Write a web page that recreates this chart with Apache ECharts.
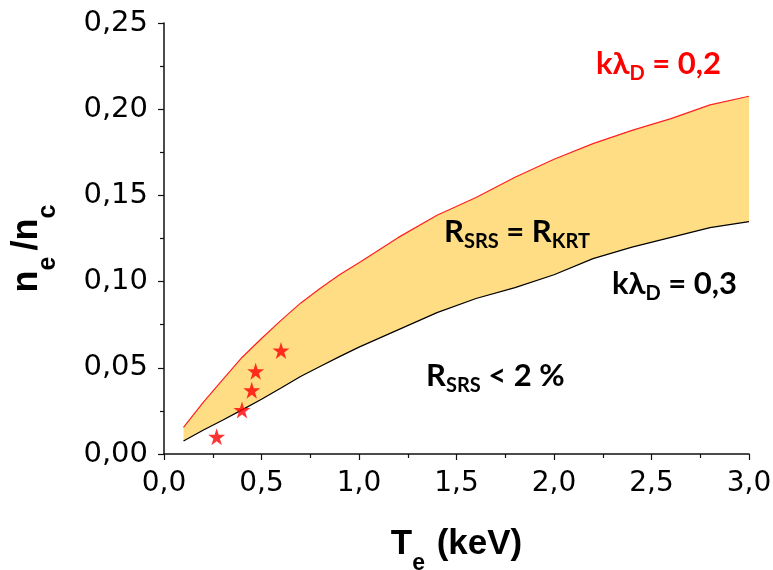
<!DOCTYPE html>
<html><head><meta charset="utf-8">
<script src="https://cdn.jsdelivr.net/npm/echarts@6/dist/echarts.min.js"></script>
<style>html,body{margin:0;padding:0;background:#fff}#c{width:773px;height:570px}</style>
</head><body><div id="c"></div>
<script>
// Electron temperature (keV)
const teValues = [0.1,0.2,0.3,0.4,0.5,0.6,0.7,0.8,0.9,1.0,1.2,1.4,1.6,1.8,2.0,2.2,2.4,2.6,2.8,3.0];
// upper boundary k*lambda_D = 0.2
const upperKLD02 = [0.0155,0.0298,0.043,0.056,0.067,0.0775,0.0875,0.096,0.104,0.111,0.1255,0.1385,0.1488,0.1605,0.171,0.180,0.1877,0.1945,0.2025,0.2075];
// lower boundary k*lambda_D = 0.3
const lowerKLD03 = [0.0075,0.0138,0.0196,0.0256,0.0318,0.0383,0.0450,0.0508,0.0565,0.0620,0.0720,0.0820,0.0902,0.0965,0.1040,0.1133,0.1200,0.1257,0.1313,0.1348];
// experimental points (stars)
const starTe = [0.27,0.40,0.45,0.47,0.60];
const starNe = [0.010,0.0255,0.037,0.048,0.060];
const xTickLabels = ['0,0','0,5','1,0','1,5','2,0','2,5','3,0'];
const yTickLabels = ['0,00','0,05','0,10','0,15','0,20','0,25'];

const upperData = teValues.map((t,i)=>[t, upperKLD02[i]]);
const lowerData = teValues.map((t,i)=>[t, lowerKLD03[i]]);
const starData = starTe.map((t,i)=>[t, starNe[i]]);

const STAR = 'path://M50,0 L61.2,34.5 L97.6,34.5 L68.2,55.9 L79.4,90.5 L50,69.1 L20.6,90.5 L31.8,55.9 L2.4,34.5 L38.8,34.5 Z';
const annFont = 'Lato, "Open Sans", sans-serif';
const annRich = (color) => ({
  m: {fontFamily: annFont, fontWeight: 'bold', fontSize: 31, lineHeight: 34, fill: color},
  s: {fontFamily: annFont, fontWeight: 'bold', fontSize: 20, lineHeight: 34, padding: [20,0,0,0], fill: color}
});

const chart = echarts.init(document.getElementById('c'), null, {renderer: 'canvas'});
const axisCommon = {
  axisLine: {show: true, lineStyle: {color: '#111', width: 1.5}},
  axisTick: {show: true, inside: false, length: 6, lineStyle: {color: '#111', width: 1.2}},
  minorTick: {show: true, splitNumber: 2, length: 4, lineStyle: {color: '#111', width: 1.2}},
  splitLine: {show: false}
};
chart.setOption({
  animation: false,
  backgroundColor: '#fff',
  grid: {left: 164, right: 24, top: 23, bottom: 116, containLabel: false, outerBoundsMode: 'none'},
  xAxis: Object.assign({
    type: 'value', min: 0, max: 3, interval: 0.5,
    axisLabel: {fontFamily: 'DejaVu Sans', fontSize: 28, color: '#000', margin: 16,
      formatter: v => xTickLabels[Math.round(v/0.5)]},
    name: '{m|T}{s|e}{m| (keV)}', nameLocation: 'middle', nameGap: 70,
    nameTextStyle: {rich: {
      m: {fontFamily: 'Liberation Sans', fontWeight: 'bold', fontSize: 35, lineHeight: 40, color: '#000'},
      s: {fontFamily: 'Liberation Sans', fontWeight: 'bold', fontSize: 23, lineHeight: 40, padding: [40,2,0,0], color: '#000'}
    }}
  }, axisCommon),
  yAxis: Object.assign({
    type: 'value', min: 0, max: 0.25, interval: 0.05,
    axisLabel: {fontFamily: 'DejaVu Sans', fontSize: 29, color: '#000', margin: 16,
      formatter: v => yTickLabels[Math.round(v/0.05)]},
    name: '{m|n}{s|e}{m|/n}{s|c}', nameLocation: 'middle', nameGap: 117,
    nameTextStyle: {padding: [0, 14, 0, 0], rich: {
      m: {fontFamily: 'Liberation Sans', fontWeight: 'bold', fontSize: 36, lineHeight: 40, color: '#000'},
      s: {fontFamily: 'Liberation Sans', fontWeight: 'bold', fontSize: 25, lineHeight: 40, padding: [42,6,0,0], color: '#000'}
    }}
  }, axisCommon),
  series: [
    {type: 'custom', name: 'band', data: [[0, 0]], silent: true, clip: false, z: 1,
     renderItem: (params, api) => {
       const pts = [];
       for (let i = 0; i < teValues.length; i++) pts.push(api.coord([teValues[i], upperKLD02[i]]));
       for (let i = teValues.length - 1; i >= 0; i--) pts.push(api.coord([teValues[i], lowerKLD03[i]]));
       return {type: 'polygon', shape: {points: pts}, style: {fill: '#FEDD85', stroke: null}};
     }},
    {type: 'line', name: 'kλD=0.2', data: upperData, symbol: 'none',
     lineStyle: {color: '#ff2020', width: 1.2}, z: 3},
    {type: 'line', name: 'kλD=0.3', data: lowerData, symbol: 'none',
     lineStyle: {color: '#000', width: 1.2}, z: 3},
    {type: 'scatter', name: 'exp', data: starData, symbol: STAR, symbolSize: 17,
     itemStyle: {color: '#ff0000'}, z: 6}
  ],
  graphic: [
    {type: 'text', x: 596, y: 47, z: 10, style: {text: '{m|kλ}{s|D}{m| = 0,2}', rich: annRich('#ff0000')}},
    {type: 'text', x: 444, y: 215, z: 10, style: {text: '{m|R}{s|SRS}{m| = R}{s|KRT}', rich: annRich('#000')}},
    {type: 'text', x: 612, y: 267, z: 10, style: {text: '{m|kλ}{s|D}{m| = 0,3}', rich: annRich('#000')}},
    {type: 'text', x: 426, y: 359, z: 10, style: {text: '{m|R}{s|SRS}{m| < 2 %}', rich: annRich('#000')}}
  ]
});
</script>
</body></html>
